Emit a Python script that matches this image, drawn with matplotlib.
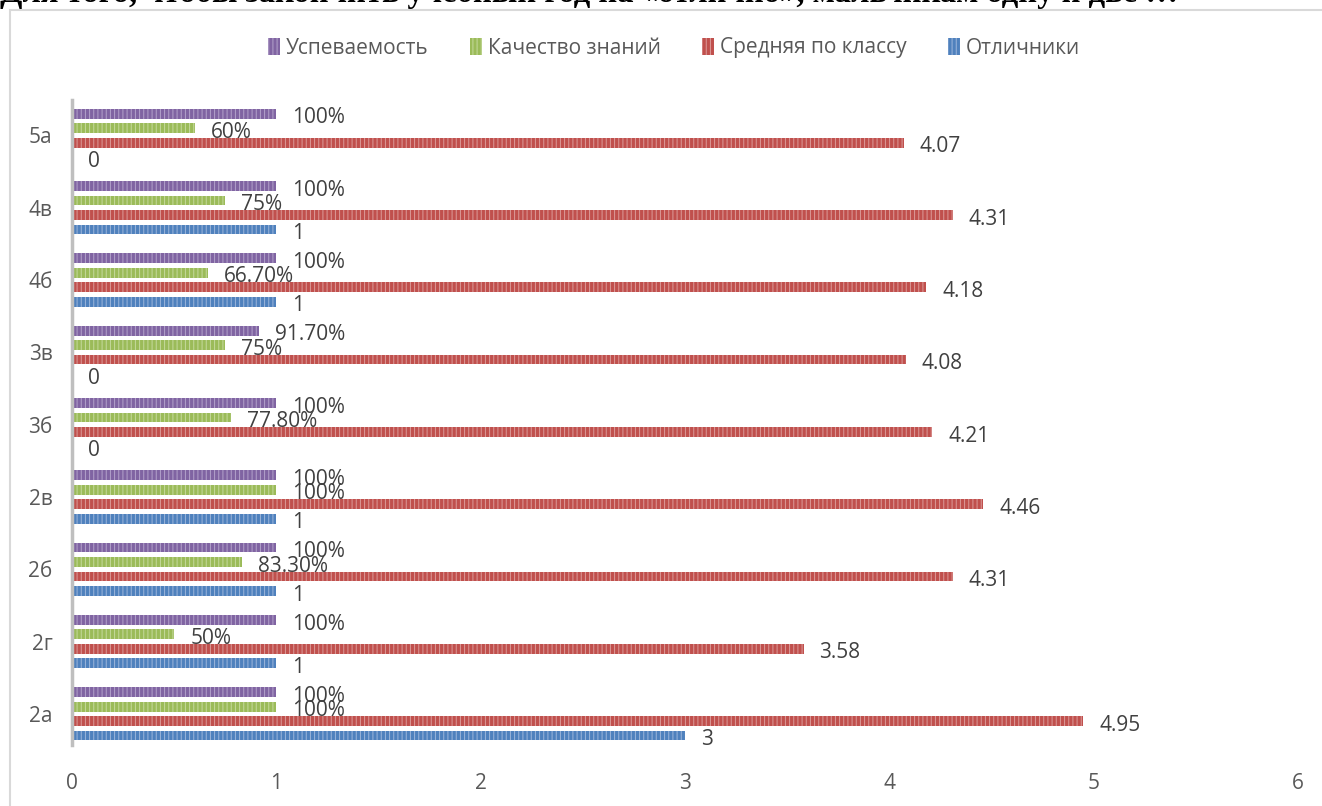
import matplotlib
matplotlib.use("Agg")
import matplotlib.pyplot as plt
from matplotlib.patches import Patch, Rectangle
import numpy as np

plt.rcParams['font.family'] = ['Open Sans', 'DejaVu Sans']
plt.rcParams['hatch.linewidth'] = 0.7

classes = ['2а', '2г', '2б', '2в', '3б', '3в', '4б', '4в', '5а']
otlichniki = [3, 1, 1, 1, 0, 0, 1, 1, 0]
srednyaya = [4.95, 3.58, 4.31, 4.46, 4.21, 4.08, 4.18, 4.31, 4.07]
kachestvo = [1.0, 0.5, 0.833, 1.0, 0.778, 0.75, 0.667, 0.75, 0.6]
uspevaemost = [1.0, 1.0, 1.0, 1.0, 1.0, 0.917, 1.0, 1.0, 1.0]

series_names = ['Отличники', 'Средняя по классу', 'Качество знаний', 'Успеваемость']
colors = ['#4F81BD', '#C0504D', '#9BBB59', '#8064A2']
stripes = ['#9DB7DB', '#DC9C9A', '#C6DA9E', '#B4A3CC']


def pct(v):
    p = v * 100
    if abs(p - round(p)) < 1e-9:
        return f"{int(round(p))}%"
    return f"{p:.2f}%"


labels = [
    [str(v) for v in otlichniki],
    [f"{v:.2f}" for v in srednyaya],
    [pct(v) for v in kachestvo],
    [pct(v) for v in uspevaemost],
]
values = [otlichniki, srednyaya, kachestvo, uspevaemost]

FS = 15

fig = plt.figure(figsize=(13.22, 8.06), dpi=100)

# frame of the embedded chart
fig.patches.append(Rectangle((10 / 1322, -0.1), 1.2, 1.1 - 10 / 806,
                             transform=fig.transFigure, fill=False,
                             edgecolor='#d9d9d9', linewidth=1.5))
# cut-off document text above the chart
fig.text(0.0, 1 - 2 / 806,
         'Для того, чтобы закончить учебный год на «отлично», мальчикам одну и две …',
         family='Liberation Serif', fontsize=23.5, fontweight='bold', color='black',
         va='baseline')

ax = fig.add_axes([72 / 1322, 1 - 745 / 806, (1298 - 72) / 1322, (745 - 100) / 806])

y = np.arange(len(classes))
pitch = 0.2
h = 0.135
for i, (vals, c, s, labs) in enumerate(zip(values, colors, stripes, labels)):
    yy = y + (i - 1.5) * pitch
    ax.barh(yy, vals, height=h, color=c, edgecolor=s, linewidth=0, hatch='||||')
    for v, py, lab in zip(vals, yy, labs):
        ax.annotate(lab, (v, py), xytext=(11.5, -3), textcoords='offset points',
                    va='center', ha='left', fontsize=FS, color='#404040')

ax.set_xlim(0, 6)
ax.set_ylim(-0.43, 8.49)
ax.set_xticks(range(7))
ax.set_yticks(y)
ax.set_yticklabels(classes)
ax.tick_params(axis='both', length=0, labelsize=FS, labelcolor='#595959')
ax.tick_params(axis='x', pad=20)
ax.tick_params(axis='y', pad=14)
for sp in ['top', 'right', 'bottom']:
    ax.spines[sp].set_visible(False)
ax.spines['left'].set_color('#bfbfbf')
ax.spines['left'].set_linewidth(2.5)

handles = [Patch(facecolor=c, edgecolor=s, linewidth=0, hatch='||||', label=n)
           for n, c, s in zip(series_names, colors, stripes)][::-1]
fig.legend(handles=handles, loc='center', bbox_to_anchor=(0.51, 1 - 48 / 806),
           ncol=4, frameon=False, fontsize=FS, handlelength=0.55, handleheight=0.9,
           handletextpad=0.3, columnspacing=2.0, labelcolor='#595959')

fig.savefig('out.png', dpi=100)
